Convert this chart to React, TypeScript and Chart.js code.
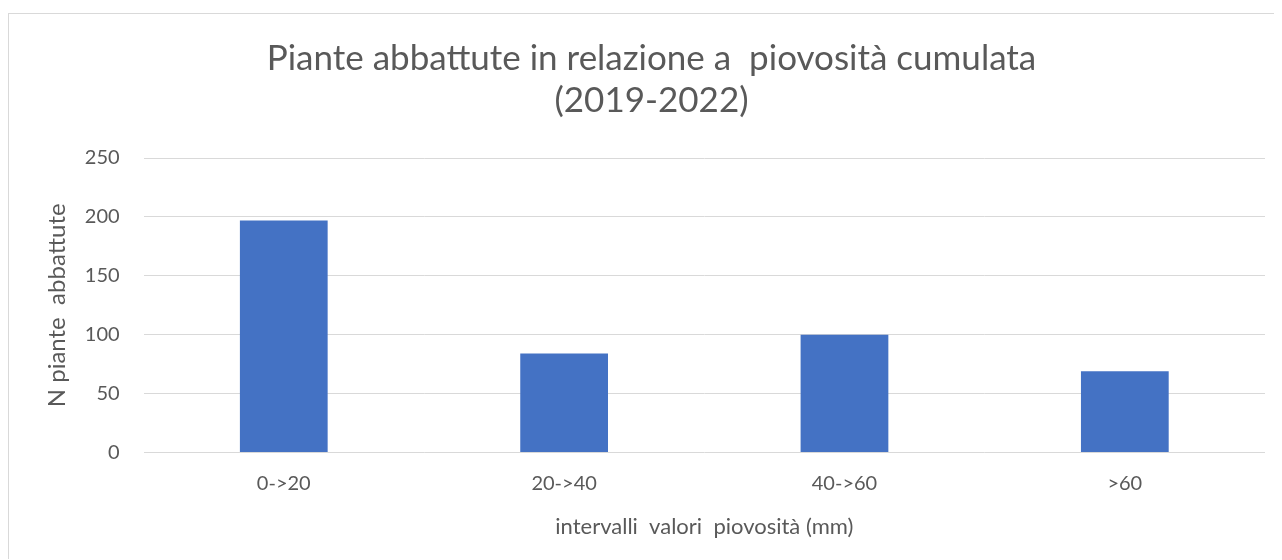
import React, { useEffect, useRef } from "react";
import { Chart, registerables } from "chart.js";

Chart.register(...registerables);

const categories = ["0->20", "20->40", "40->60", ">60"];
const values = [197, 84, 100, 69];
const titleLines = ["Piante abbattute in relazione a  piovosità cumulata", "(2019-2022)"];
const xTitle = "intervalli  valori  piovosità (mm)";
const yTitle = "N piante  abbattute";

const FONT = "Lato, 'Open Sans', sans-serif";
const TEXT = "#595959";
const GRID = "#d9d9d9";

export default function App() {
  const ref = useRef<HTMLCanvasElement | null>(null);
  useEffect(() => {
    if (!ref.current) return;
    const chart = new Chart(ref.current, {
      type: "bar",
      data: {
        labels: categories,
        datasets: [
          {
            data: values,
            backgroundColor: "#4472c4",
            borderWidth: 0,
            barPercentage: 0.313,
            categoryPercentage: 1,
          },
        ],
      },
      options: {
        animation: false,
        responsive: true,
        maintainAspectRatio: false,
        layout: { padding: { left: 29, right: 16, top: 14, bottom: 19 } },
        plugins: {
          legend: { display: false },
          tooltip: { enabled: false },
          title: {
            display: true,
            text: titleLines,
            color: TEXT,
            font: { family: FONT, size: 35, weight: "normal" },
            lineHeight: 1.23,
            padding: { top: 10, bottom: 36 },
          },
        },
        scales: {
          x: {
            grid: { display: false, drawTicks: false },
            border: { display: false },
            ticks: { color: TEXT, font: { family: FONT, size: 20 }, padding: 19 },
            title: {
              display: true,
              text: xTitle,
              color: TEXT,
              font: { family: FONT, size: 22 },
              padding: { top: -1, bottom: 0 },
            },
          },
          y: {
            min: 0,
            max: 250,
            ticks: { stepSize: 50, color: TEXT, font: { family: FONT, size: 20 }, padding: 24 },
            grid: { color: GRID, lineWidth: 1, drawTicks: false },
            border: { display: false },
            title: {
              display: true,
              text: yTitle,
              color: TEXT,
              font: { family: FONT, size: 24 },
              padding: { top: 5, bottom: -11 },
            },
          },
        },
      },
    });
    return () => chart.destroy();
  }, []);
  return (
    <div style={{ paddingTop: 5 }}>
      <div
        style={{
          width: 1272,
          height: 545,
          border: "1px solid #d9d9d9",
          borderRight: "none",
          borderBottom: "none",
          position: "relative",
          background: "#fff",
        }}
      >
        <canvas ref={ref} />
      </div>
    </div>
  );
}
